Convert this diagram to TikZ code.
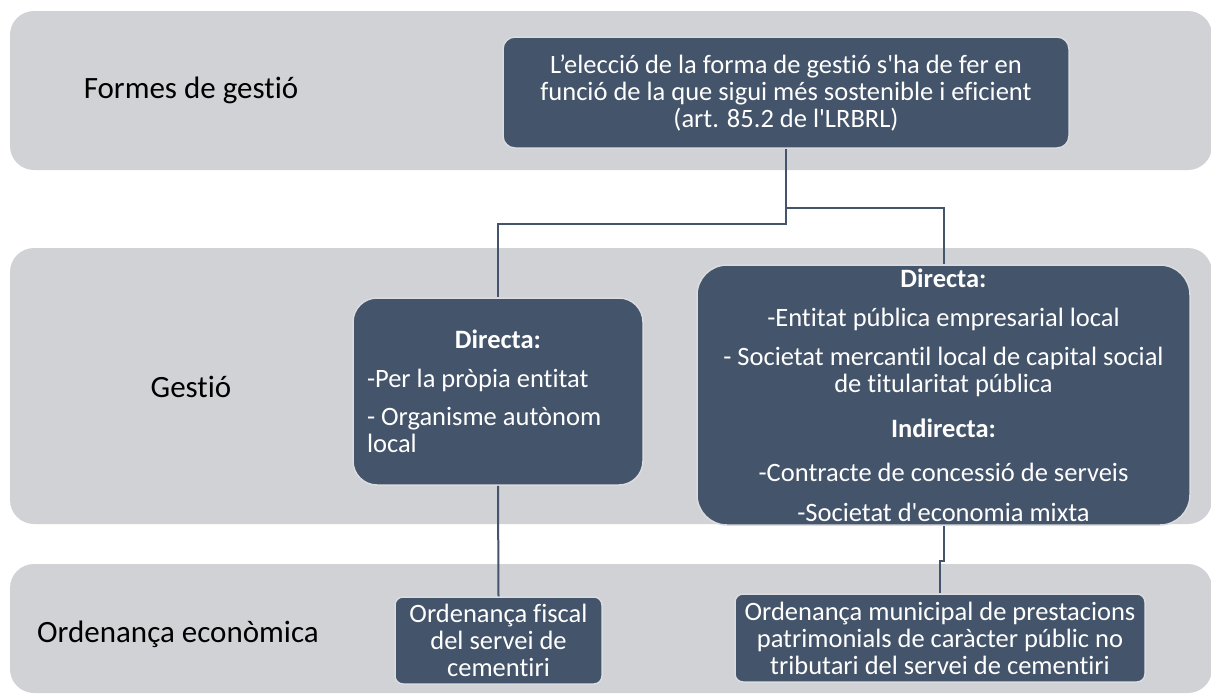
\documentclass[tikz,border=0pt]{standalone}
\usepackage{fontspec}
\setmainfont{Carlito}[Ligatures={TeX,NoCommon}]
\definecolor{slate}{HTML}{44546A}
\definecolor{bandgray}{HTML}{D0D2D6}
\definecolor{rimgray}{HTML}{DADCE0}
\newcommand\boxfont{\fontsize{26.5}{27}\selectfont}
\newcommand\aps{\textquotesingle}

\begin{document}
\begin{tikzpicture}[x=1pt, y=-1pt,
		band/.style={fill=bandgray, rounded corners=24pt},
		main node/.style={draw=rimgray, line width=1.5pt, fill=slate, text=white,
			font=\boxfont, align=center, inner sep=0pt},
		side label/.style={font=\fontsize{31}{36}\selectfont, text=black},
		link/.style={draw=slate, line width=2pt}]

		\useasboundingbox (0,0) rectangle (1211,694);

		% franges de fons
		\fill[band] (10,11) rectangle (1212,170);
		\fill[band] (10,248) rectangle (1212,524);
		\fill[band] (10,564) rectangle (1212,693);

		\node[side label] (formes) at (191,90) {Formes de gestió};
		\node[side label] (gestio) at (191,387) {Gestió};
		\node[side label] (ordenanca) at (178,634) {Ordenança econòmica};

		\node[main node, rounded corners=12pt, minimum width=566pt, minimum height=111pt]
			(tria) at (786,92.5) {L’elecció de la forma de gestió s\aps ha de fer en\\
			funció de la que sigui més sostenible i eficient\\ (art. 85.2 de l\aps LRBRL)};

		\node[main node, rounded corners=24pt, minimum width=290pt, minimum height=187pt,
			text width=262pt, align=flush left] (directa) at (498,391.5)
			{\makebox[262pt]{\textbf{Directa:}}\\[12pt] -Per la pròpia entitat\\[11pt]
			- Organisme autònom\\ local};

		\node[main node, rounded corners=30pt, minimum width=493pt, minimum height=260pt]
			(mixta) at (943.5,395) {\textbf{Directa:}\\[12pt]
			-Entitat pública empresarial local\\[12pt]
			- Societat mercantil local de capital social\\ de titularitat pública\\[18pt]
			\textbf{Indirecta:}\\[17pt]
			-Contracte de concessió de serveis\\[13pt]
			-Societat d\aps economia mixta};

		\node[main node, rounded corners=8pt, minimum width=207pt, minimum height=87pt]
			(fiscal) at (498.5,640.5) {Ordenança fiscal\\ del servei de\\ cementiri};
		\node[main node, rounded corners=8pt, minimum width=410pt, minimum height=88pt]
			(patrim) at (940,638) {Ordenança municipal de prestacions\\
			patrimonials de caràcter públic no\\ tributari del servei de cementiri};

		% connectors
		\draw[link] (tria.south) -- ++(0,75) -| (directa.north);
		\draw[link] (tria.south) -- ++(0,59) -| (mixta.north);
		\draw[link] (directa.south) -- (fiscal.north);
		\draw[link] (mixta.south) -- ++(0,35) -| (patrim.north);
\end{tikzpicture}
\end{document}
